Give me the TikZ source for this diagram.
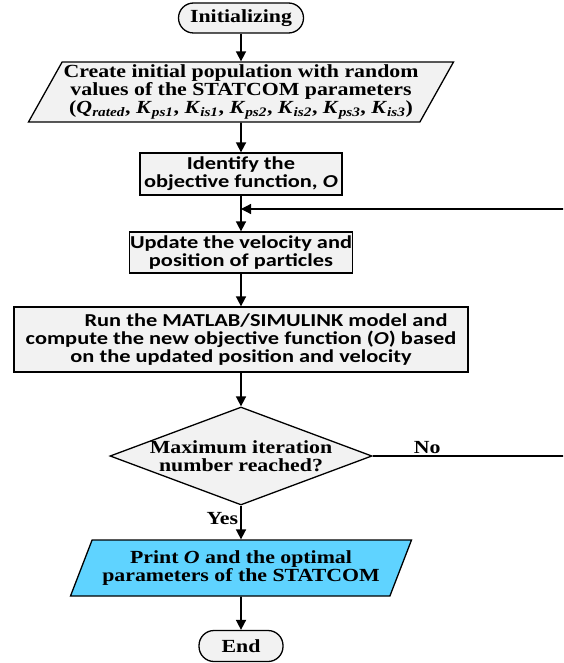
\documentclass[tikz,border=0pt]{standalone}
\usepackage{fontspec}
\setmainfont{Liberation Serif}[FakeStretch=1.18]
\newfontfamily\boxfont{Carlito}[FakeStretch=1.23]
\usetikzlibrary{shapes.geometric}
\usetikzlibrary{arrows.meta}

\definecolor{boxgray}{RGB}{242,242,242}
\definecolor{printblue}{RGB}{95,211,255}
\newcommand{\flowfont}{\fontsize{18.5}{17.8}\selectfont\bfseries}
\newcommand{\sansflow}{\boxfont\fontsize{18.2}{18}\selectfont\bfseries}

\begin{document}
\begin{tikzpicture}[x=1pt, y=-1pt,
        flow/.style={draw=black, line width=1.3pt, fill=boxgray, align=center, inner sep=0pt},
        term/.style={flow, rounded corners=15pt, minimum height=30pt, font=\flowfont},
        iobox/.style={flow, trapezium, trapezium left angle=58, trapezium right angle=122,
            trapezium stretches body, font=\flowfont},
        procbox/.style={flow, rectangle, font=\sansflow},
        decbox/.style={flow, diamond, aspect=2.67, inner sep=-4pt, minimum width=262pt,
            minimum height=98pt, font=\flowfont},
        arrow/.style={line width=1.7pt, -{Triangle[length=10pt, width=10pt]}},
        lbl/.style={font=\flowfont, inner sep=2pt}]

        \useasboundingbox (0,0) rectangle (563,663);
        \clip (0,0) rectangle (563,663);

        % Start and input
        \node[term, minimum width=125pt] (init) at (241,18) {Initializing};
        \node[iobox, minimum width=425pt, minimum height=60pt] (create) at (241,92)
            {Create initial population with random\\
             values of the STATCOM parameters\\
             (\textit{Q}\textsubscript{\textit{rated}}, \textit{K}\textsubscript{\textit{ps1}},
             \textit{K}\textsubscript{\textit{is1}}, \textit{K}\textsubscript{\textit{ps2}},
             \textit{K}\textsubscript{\textit{is2}}, \textit{K}\textsubscript{\textit{ps3}},
             \textit{K}\textsubscript{\textit{is3}})};

        % Process boxes
        \node[procbox, minimum width=202pt, minimum height=42pt] (ident) at (241,174)
            {Identify the\\ objective function, \textit{O}};
        \node[procbox, minimum width=223pt, minimum height=41pt] (update) at (241,252.5)
            {Update the velocity and\\ position of particles};
        \node[procbox, minimum width=454pt, minimum height=65pt] (run) at (241,339.5)
            {\hspace*{50pt}Run the MATLAB/SIMULINK model and\\
             compute the new objective function (\textit{O}) based\\
             on the updated position and velocity};

        % Decision
        \node[decbox] (dec) at (241,456) {Maximum iteration\\ number reached?};

        % Output and end
        \node[iobox, fill=printblue, minimum width=341pt, minimum height=56pt] (print) at (241,568)
            {Print \textit{O} and the optimal\\ parameters of the STATCOM};
        \node[term, minimum width=84pt, minimum height=31pt] (end) at (241,646) {End};

        % Loop points
        \coordinate (join) at (241,209);
        \coordinate (rail) at (600,209);

        % Arrows
        \draw[arrow] (init) -- (create);
        \draw[arrow] (create) -- (ident);
        \draw[arrow] (ident) -- (update);
        \draw[arrow] (update) -- (run);
        \draw[arrow] (run) -- (dec);
        \draw[arrow] (dec) -- node[lbl, left, pos=0.38] {Yes} (print);
        \draw[arrow] (print) -- (end);
        \draw[arrow, line width=1.2pt] (dec.east) -- node[lbl, above, pos=0.24] {No}
            (dec.east -| rail) -- (rail) -- (join);
\end{tikzpicture}
\end{document}
